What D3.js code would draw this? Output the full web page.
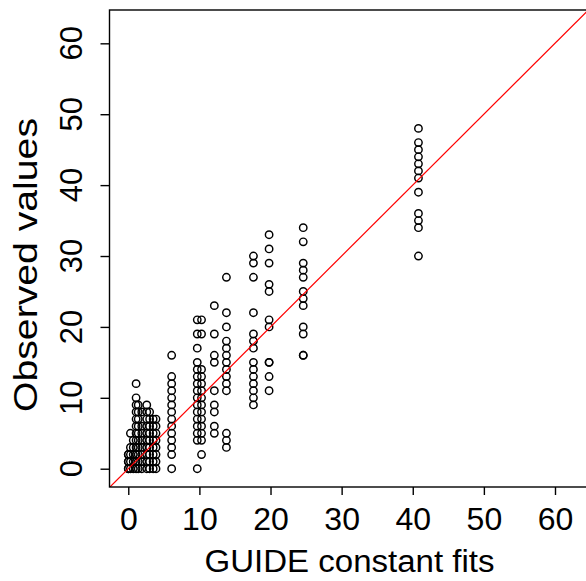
<!DOCTYPE html>
<html>
<head>
<meta charset="utf-8">
<script src="https://cdn.jsdelivr.net/npm/d3@7"></script>
<style>
  html, body { margin: 0; padding: 0; background: #fff; }
  svg { display: block; }
  text { font-family: "Liberation Sans", Arial, Helvetica, sans-serif; fill: #000; }
</style>
</head>
<body>
<svg id="chart" width="586" height="581"></svg>
<script>
// ---- data ----
const fits = [0.0, 0.3, 0.7, 1.1, 1.4, 1.9, 2.6, 3.0, 3.5, 3.9, 6.1, 9.7, 10.3, 12.1, 13.8, 17.6, 19.8, 24.6, 40.8];
const observed = [
  [0, 0, 1, 1, 2, 2],
  [0, 1, 2, 3, 5],
  [0, 1, 2, 3, 4],
  [0, 1, 2, 3, 4, 5, 6, 7, 8, 9, 10, 12],
  [0, 1, 2, 3, 4, 5, 6, 7, 8, 9],
  [0, 1, 2, 3, 4, 5, 6, 8],
  [0, 1, 2, 3, 4, 5, 6, 7, 8, 9],
  [0, 1, 2, 3, 4, 5, 6, 7, 8],
  [0, 1, 2, 3, 4, 5, 6, 7],
  [0, 1, 2, 3, 4, 5, 6, 7],
  [16, 13, 12, 11, 10, 9, 8, 7, 6, 5, 4, 3, 2, 0],
  [21, 19, 17, 15, 14, 13, 12, 11, 10, 9, 8, 7, 6, 5, 4, 0],
  [21, 19, 14, 13, 12, 11, 10, 9, 8, 7, 6, 5, 4, 2],
  [23, 19, 16, 15, 11, 9, 8, 6, 5],
  [27, 22, 20, 18, 17, 16, 15, 14, 13, 12, 11, 5, 4, 3],
  [30, 29, 27, 22, 19, 18, 17, 15, 14, 13, 12, 11, 10, 9],
  [33, 31, 29, 26, 25, 21, 20, 15, 15, 13, 11],
  [34, 32, 29, 28, 27, 25, 24, 23, 20, 19, 16, 16],
  [48, 46, 45, 44, 43, 42, 41, 39, 36, 35, 34, 30]
];
const xTicks = [0, 10, 20, 30, 40, 50, 60];
const yTicks = [0, 10, 20, 30, 40, 50, 60];
const xTitle = "GUIDE constant fits";
const yTitle = "Observed values";

// ---- layout ----
const L = 109.5, T = 10, R = 587, B = 487;
const svg = d3.select("#chart");

const x = d3.scaleLinear().domain([-2.64, 64.5]).range([L, R]);
const y = d3.scaleLinear().domain([-2.58, 64.7]).range([B, T]);

const points = [];
fits.forEach((f, i) => observed[i].forEach(o => points.push({ f, o })));

// clip
svg.append("defs").append("clipPath").attr("id", "clip")
  .append("rect").attr("x", L).attr("y", T).attr("width", R - L).attr("height", B - T);

// points
svg.append("g").selectAll("circle").data(points).join("circle")
  .attr("cx", d => x(d.f))
  .attr("cy", d => y(d.o))
  .attr("r", 3.7)
  .attr("fill", "none")
  .attr("stroke", "#000")
  .attr("stroke-width", 1.45);

// 45-degree reference line y = x
const lineDom = [-10, 100];
svg.append("line")
  .attr("clip-path", "url(#clip)")
  .attr("x1", x(lineDom[0])).attr("y1", y(lineDom[0]))
  .attr("x2", x(lineDom[1])).attr("y2", y(lineDom[1]))
  .attr("stroke", "#ff0000").attr("stroke-width", 1.2);

// box
svg.append("rect")
  .attr("x", L).attr("y", T).attr("width", R - L).attr("height", B - T)
  .attr("fill", "none").attr("stroke", "#000").attr("stroke-width", 1.4);

// x axis
const xAxis = svg.append("g").attr("transform", `translate(0,${B})`)
  .call(d3.axisBottom(x).tickValues(xTicks).tickSize(8).tickPadding(12).tickFormat(d3.format("d")));
xAxis.select(".domain").remove();
xAxis.selectAll(".tick line").attr("stroke", "#000").attr("stroke-width", 1.4);
xAxis.selectAll(".tick text").attr("font-size", 32).attr("font-family", "Liberation Sans, Arial, sans-serif");

// y axis
const yAxis = svg.append("g").attr("transform", `translate(${L},0)`)
  .call(d3.axisLeft(y).tickValues(yTicks).tickSize(9).tickFormat(""));
yAxis.select(".domain").remove();
yAxis.selectAll(".tick line").attr("stroke", "#000").attr("stroke-width", 1.4);
svg.append("g").selectAll("text").data(yTicks).join("text")
  .attr("transform", d => `translate(82,${y(d)}) rotate(-90)`)
  .attr("text-anchor", "middle")
  .attr("font-size", 31)
  .text(d => d);

// titles
svg.append("text")
  .attr("x", 349.5).attr("y", 572)
  .attr("text-anchor", "middle").attr("font-size", 31)
  .attr("textLength", 290).attr("lengthAdjust", "spacingAndGlyphs")
  .text(xTitle);
svg.append("text")
  .attr("transform", `translate(37,265) rotate(-90)`)
  .attr("text-anchor", "middle").attr("font-size", 33)
  .attr("textLength", 294).attr("lengthAdjust", "spacingAndGlyphs")
  .text(yTitle);
</script>
</body>
</html>
